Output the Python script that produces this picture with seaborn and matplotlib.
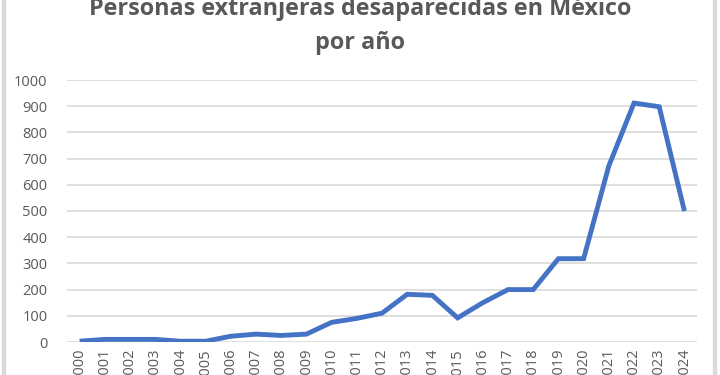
import matplotlib
matplotlib.use("Agg")
import matplotlib.pyplot as plt
import seaborn as sns
import pandas as pd
from matplotlib.patches import Rectangle

# datos
anios = [str(a) for a in range(2000, 2025)]
personas = [3, 10, 10, 10, 3, 3, 22, 30, 25, 30, 75, 90, 110, 182, 178,
            92, 150, 200, 200, 318, 318, 672, 912, 898, 500]
ticks_y = [0, 100, 200, 300, 400, 500, 600, 700, 800, 900, 1000]

TITULO = "Personas extranjeras desaparecidas en México\npor año"
AZUL = "#4472C4"
GRIS_TEXTO = "#595959"
GRIS_GRID = "#D9D9D9"

sns.set_theme(style="white")
plt.rcParams["font.family"] = ["Open Sans", "DejaVu Sans"]

df = pd.DataFrame({"anio": anios, "personas": personas})

fig = plt.figure(figsize=(7.2, 3.75), dpi=100)
ax = fig.add_axes([67 / 720, 1 - 342 / 375, 630 / 720, 262 / 375])

sns.lineplot(data=df, x="anio", y="personas", ax=ax, color=AZUL,
             linewidth=3.5, sort=False, solid_capstyle="butt",
             solid_joinstyle="miter")

ax.set_xlim(-0.5, len(anios) - 0.5)
ax.set_ylim(0, 1000)
ax.set_yticks(ticks_y)
ax.yaxis.grid(True, color=GRIS_GRID, linewidth=1.2)
ax.set_axisbelow(True)
for s in ax.spines.values():
    s.set_visible(False)
ax.set_xlabel("")
ax.set_ylabel("")
ax.tick_params(axis="y", length=0, pad=14, labelsize=10.5, labelcolor=GRIS_TEXTO)
ax.tick_params(axis="x", length=0, pad=5, labelsize=10.5, labelcolor=GRIS_TEXTO,
               labelrotation=90)
for lbl in ax.get_xticklabels():
    lbl.set_va("top")

fig.text(0.5, 1 - 26 / 375, TITULO, ha="center", va="center",
         fontsize=16.8, fontweight="bold", color=GRIS_TEXTO, linespacing=1.6)

# marco gris del área del gráfico
fig.patches.append(Rectangle((2 / 720, 0), 3 / 720, 1, transform=fig.transFigure,
                             color="#D9D9D9", zorder=0))
fig.patches.append(Rectangle((713 / 720, 0), 3 / 720, 1, transform=fig.transFigure,
                             color="#D9D9D9", zorder=0))

fig.savefig("out.png", dpi=100)
